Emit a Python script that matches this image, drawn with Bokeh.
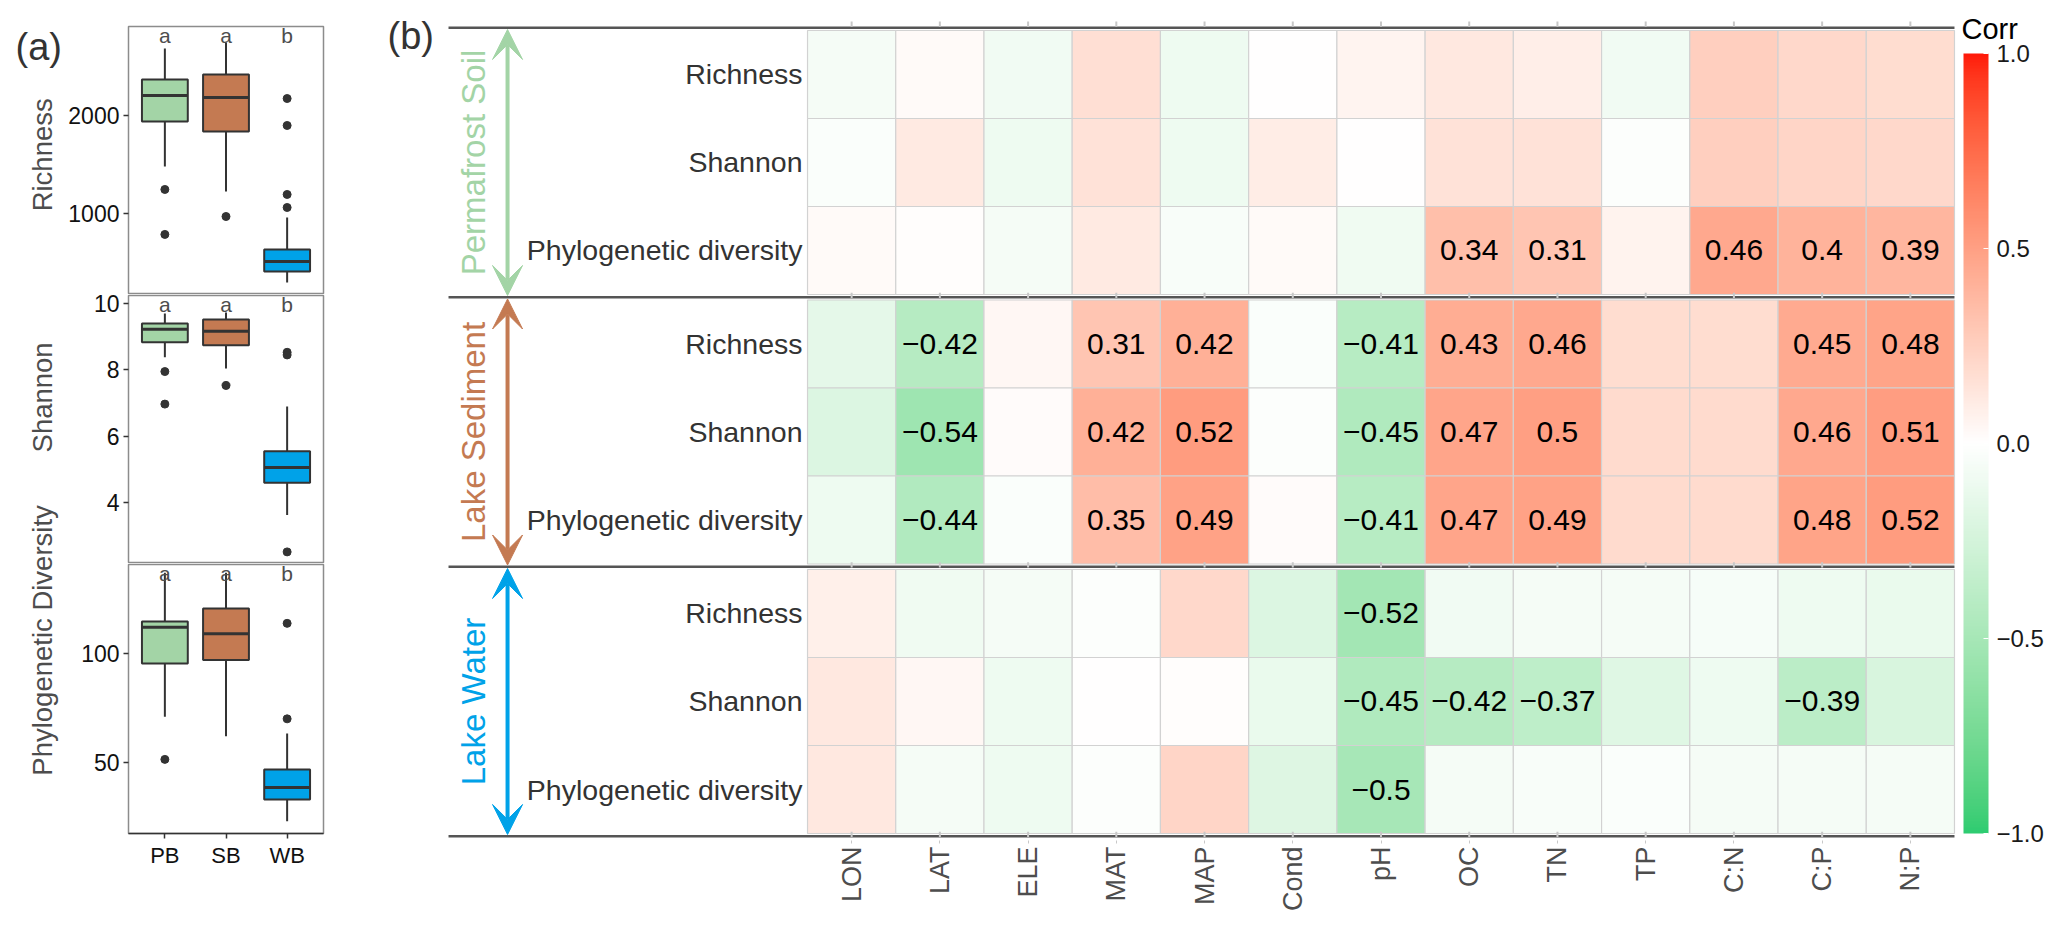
import numpy as np
from bokeh.plotting import figure
from bokeh.models import (Range1d, FactorRange, FixedTicker, ColumnDataSource, LinearColorMapper,
                          ColorBar, Arrow, VeeHead)
from bokeh.layouts import row, column
from bokeh.embed import file_html
from bokeh.resources import INLINE
from bokeh.core.properties import value

FONT = "Liberation Sans"

# ---------------- panel (a) data ----------------
groups = ["PB", "SB", "WB"]
group_colors = ["#A3D4A6", "#C47A52", "#00A2E8"]
letters = ["a", "a", "b"]
box_titles = ["Richness", "Shannon", "Phylogenetic Diversity"]

rich_low = [1480, 1224, 296]
rich_q1 = [1939, 1837, 408]
rich_med = [2204, 2184, 510]
rich_q3 = [2367, 2418, 633]
rich_high = [2684, 2745, 959]
rich_out_grp = ["PB", "PB", "SB", "WB", "WB", "WB", "WB"]
rich_out_val = [1245, 786, 969, 2173, 1898, 1194, 1061]

shan_low = [8.38, 8.04, 3.63]
shan_q1 = [8.83, 8.74, 4.60]
shan_med = [9.22, 9.16, 5.06]
shan_q3 = [9.40, 9.52, 5.55]
shan_high = [9.70, 9.73, 6.90]
shan_out_grp = ["PB", "PB", "SB", "WB", "WB", "WB"]
shan_out_val = [7.95, 6.97, 7.53, 8.53, 8.45, 2.52]

pd_low = [71, 62, 23]
pd_q1 = [95.4, 97, 33]
pd_med = [112, 109, 38.5]
pd_q3 = [114.7, 120.6, 46.8]
pd_high = [137, 137, 63.3]
pd_out_grp = ["PB", "WB", "WB"]
pd_out_val = [51.4, 113.8, 70]

# ---------------- panel (b) data ----------------
env_vars = ["LON", "LAT", "ELE", "MAT", "MAP", "Cond", "pH", "OC", "TN", "TP", "C:N", "C:P", "N:P"]
metrics = ["Richness", "Shannon", "Phylogenetic diversity"]
habitats = ["Permafrost Soil", "Lake Sediment", "Lake Water"]
habitat_colors = ["#A3D4A6", "#C47A52", "#00A2E8"]

soil_richness = [-0.06, 0.03, -0.08, 0.17, -0.10, 0.00, 0.06, 0.12, 0.09, -0.08, 0.25, 0.21, 0.18]
soil_shannon = [-0.03, 0.11, -0.10, 0.15, -0.10, 0.10, 0.00, 0.15, 0.15, -0.02, 0.25, 0.22, 0.21]
soil_pd = [0.03, 0.01, -0.06, 0.11, -0.04, 0.03, -0.09, 0.34, 0.31, 0.07, 0.46, 0.40, 0.39]
sed_richness = [-0.15, -0.42, 0.04, 0.31, 0.42, -0.03, -0.41, 0.43, 0.46, 0.18, 0.18, 0.45, 0.48]
sed_shannon = [-0.20, -0.54, 0.02, 0.42, 0.52, -0.02, -0.45, 0.47, 0.50, 0.19, 0.19, 0.46, 0.51]
sed_pd = [-0.10, -0.44, -0.03, 0.35, 0.49, 0.02, -0.41, 0.47, 0.49, 0.19, 0.19, 0.48, 0.52]
water_richness = [0.08, -0.09, -0.06, -0.02, 0.21, -0.20, -0.52, -0.08, -0.06, -0.06, -0.05, -0.10, -0.12]
water_shannon = [0.12, 0.04, -0.10, 0.00, 0.01, -0.12, -0.45, -0.42, -0.37, -0.18, -0.10, -0.39, -0.22]
water_pd = [0.12, -0.06, -0.10, -0.02, 0.22, -0.19, -0.50, -0.06, -0.04, -0.03, -0.06, -0.06, -0.06]

corr_rows = [soil_richness, soil_shannon, soil_pd,
             sed_richness, sed_shannon, sed_pd,
             water_richness, water_shannon, water_pd]
show_threshold = 0.3

corr_low_color = "#2ECC71"
corr_high_color = "#FF1A0A"
colorbar_ticks = [-1.0, -0.5, 0.0, 0.5, 1.0]
colorbar_title = "Corr"


# ---------------- colour helpers (Lab interpolation like ggplot) ----------------
def _hex_to_rgb(h):
    h = h.lstrip("#")
    return np.array([int(h[i:i + 2], 16) for i in (0, 2, 4)], dtype=float) / 255.0


_M = np.array([[0.4124564, 0.3575761, 0.1804375],
               [0.2126729, 0.7151522, 0.0721750],
               [0.0193339, 0.1191920, 0.9503041]])
_MI = np.linalg.inv(_M)
_WHITE = np.array([0.95047, 1.0, 1.08883])


def _to_lab(h):
    c = _hex_to_rgb(h)
    lin = np.where(c <= 0.04045, c / 12.92, ((c + 0.055) / 1.055) ** 2.4)
    xyz = _M @ lin / _WHITE
    d = 6 / 29
    f = np.where(xyz > d ** 3, np.cbrt(xyz), xyz / (3 * d * d) + 4 / 29)
    return np.array([116 * f[1] - 16, 500 * (f[0] - f[1]), 200 * (f[1] - f[2])])


def _from_lab(lab):
    L, a, b = lab
    fy = (L + 16) / 116
    fx = fy + a / 500
    fz = fy - b / 200
    d = 6 / 29
    f = np.array([fx, fy, fz])
    xyz = np.where(f > d, f ** 3, 3 * d * d * (f - 4 / 29)) * _WHITE
    lin = np.clip(_MI @ xyz, 0, 1)
    c = np.where(lin <= 0.0031308, 12.92 * lin, 1.055 * lin ** (1 / 2.4) - 0.055)
    c = np.clip(np.round(c * 255), 0, 255).astype(int)
    return "#%02x%02x%02x" % tuple(c)


_lab_low, _lab_mid, _lab_high = _to_lab(corr_low_color), _to_lab("#FFFFFF"), _to_lab(corr_high_color)
palette = []
for v in np.linspace(-1, 1, 256):
    if v < 0:
        palette.append(_from_lab(_lab_mid + (-v) * (_lab_low - _lab_mid)))
    else:
        palette.append(_from_lab(_lab_mid + v * (_lab_high - _lab_mid)))
mapper = LinearColorMapper(palette=palette, low=-1, high=1)

# ---------------- layout constants (pixels) ----------------
STRIP_W = 65
A_W = 278
COL_H = 917
A_FRAME_TOPS = [26, 295, 564]
A_FRAME_BOTTOMS = [294, 563, 833]


# ---------------- panel (a) ----------------
def box_fig(low, q1, med, q3, high, out_grp, out_val, yr, ticks, height,
            top, bottom, show_x, overlap):
    p = figure(width=A_W, height=height,
               x_range=FactorRange(factors=groups, range_padding=0.0633),
               y_range=Range1d(*yr), output_backend="svg", toolbar_location=None,
               min_border_left=62, min_border_right=20,
               min_border_top=top, min_border_bottom=bottom,
               margin=(-overlap, 0, 0, 0))
    p.border_fill_color = None
    p.xgrid.visible = False
    p.ygrid.visible = False
    p.outline_line_color = "#8c8c8c"
    p.outline_line_width = 1.5
    p.background_fill_color = "white"
    src = ColumnDataSource(dict(g=groups, low=low, q1=q1, med=med, q3=q3, high=high,
                                color=group_colors, letter=letters))
    p.segment(x0="g", y0="q3", x1="g", y1="high", source=src, line_color="#333333", line_width=2)
    p.segment(x0="g", y0="low", x1="g", y1="q1", source=src, line_color="#333333", line_width=2)
    p.vbar(x="g", width=0.75, bottom="q1", top="q3", source=src, fill_color="color",
           line_color="#333333", line_width=2)
    p.vbar(x="g", width=0.75, bottom="med", top="med", source=src, fill_color=None,
           line_color="#333333", line_width=3)
    p.scatter(x=out_grp, y=out_val, size=8, color="#333333")
    px_per_unit = (height - top - bottom) / (yr[1] - yr[0])
    src.data["ly"] = [yr[1] - 9 / px_per_unit] * 3
    p.text(x="g", y="ly", text="letter", source=src, text_align="center", text_baseline="middle",
           text_font=value(FONT), text_font_size="21px", text_color="#4d4d4d")

    ax = p.yaxis[0]
    ax.ticker = FixedTicker(ticks=ticks)
    ax.major_label_text_font = FONT
    ax.major_label_text_font_size = "23px"
    ax.major_label_text_color = "#111111"
    ax.major_label_standoff = 4
    ax.major_tick_in = 0
    ax.major_tick_out = 5
    ax.major_tick_line_color = "#333333"
    ax.major_tick_line_width = 1.5
    ax.minor_tick_line_color = None
    ax.axis_line_color = None

    if show_x:
        xa = p.xaxis[0]
        xa.major_label_text_font = FONT
        xa.major_label_text_font_size = "22px"
        xa.major_label_text_color = "#111111"
        xa.major_tick_in = 0
        xa.major_tick_out = 5
        xa.major_tick_line_color = "#333333"
        xa.major_tick_line_width = 1.5
        xa.axis_line_color = "#333333"
        xa.axis_line_width = 1.5
        xa.major_label_standoff = 4
    else:
        p.xaxis.visible = False
    return p


a1 = box_fig(rich_low, rich_q1, rich_med, rich_q3, rich_high, rich_out_grp, rich_out_val,
             (173, 2908), [1000, 2000], 294, 26, 0, False, 0)
a2 = box_fig(shan_low, shan_q1, shan_med, shan_q3, shan_high, shan_out_grp, shan_out_val,
             (2.17, 10.24), [4, 6, 8, 10], 277, 9, 0, False, 8)
a3 = box_fig(pd_low, pd_q1, pd_med, pd_q3, pd_high, pd_out_grp, pd_out_val,
             (17.4, 140.8), [50, 100], 362, 9, 84, True, 8)

# strip holding "(a)" and the y titles of panel (a)
strip = figure(width=STRIP_W, height=COL_H, x_range=Range1d(0, STRIP_W), y_range=Range1d(COL_H, 0),
               output_backend="svg", toolbar_location=None, min_border=0,
               min_border_left=0, min_border_right=0, min_border_top=0, min_border_bottom=0)
strip.axis.visible = False
strip.grid.visible = False
strip.outline_line_color = None
strip.text(x=[15], y=[40], text=["(a)"], text_align="left", text_baseline="middle",
           text_font=value(FONT), text_font_size="38px", text_color="#333333")
title_y = [(t + b) / 2 for t, b in zip(A_FRAME_TOPS, A_FRAME_BOTTOMS)]
strip.text(x=[42] * 3, y=title_y, text=box_titles, angle=np.pi / 2, text_align="center",
           text_baseline="middle", text_font=value(FONT), text_font_size="27.5px",
           text_color="#4d4d4d")

# ---------------- panel (b) ----------------
gap = 0.0625          # gap between habitat blocks, in row units
x_left = -4.340
x_right = 14.781
sep_x_start = -3.569
hm = figure(width=1724, height=920, x_range=Range1d(x_left, x_right),
            y_range=Range1d(9.2045, -0.227), output_backend="svg", toolbar_location=None,
            min_border_left=37, min_border_right=0, min_border_top=10, min_border_bottom=80)
hm.outline_line_color = None
hm.xgrid.visible = False
hm.ygrid.visible = False
hm.yaxis.visible = False

col_x = [i + 1 for i in range(len(env_vars))]
cx, cy, cv, ct = [], [], [], []
row_y = []
for s in range(3):
    for r in range(3):
        yc = s * (3 + gap) + r + 0.5
        row_y.append(yc)
        vals = corr_rows[s * 3 + r]
        for j, v in enumerate(vals):
            cx.append(col_x[j])
            cy.append(yc)
            cv.append(v)
            ct.append(("%g" % v).replace("-", "\u2212") if abs(v) >= show_threshold else "")

cell_src = ColumnDataSource(dict(x=cx, y=cy, v=cv, t=ct))
hm.rect(x="x", y="y", width=1, height=1, source=cell_src,
        fill_color={"field": "v", "transform": mapper}, line_color="#d2d2d2", line_width=1.2)
hm.text(x="x", y="y", text="t", source=cell_src, text_align="center", text_baseline="middle",
        text_font=value(FONT), text_font_size="30px", text_color="#000000")

# row labels
hm.text(x=[0.443] * 9, y=row_y, text=metrics * 3, text_align="right", text_baseline="middle",
        text_font=value(FONT), text_font_size="28.5px", text_color="#333333")

# separator lines
sep_y = [-gap / 2] + [s * (3 + gap) + 3 + gap / 2 for s in range(3)]
hm.segment(x0=[sep_x_start] * 4, y0=sep_y, x1=[13.5] * 4, y1=sep_y, line_color="#555555", line_width=2.5)

# small tick marks at column centres
tx0, ty0, ty1 = [], [], []
for j in col_x:
    tx0.append(j); ty0.append(-gap / 2 - 0.07); ty1.append(-gap / 2 - 0.01)
    for s in range(3):
        yb = s * (3 + gap) + 3
        tx0.append(j); ty0.append(yb - 0.02); ty1.append(yb + 0.04)
hm.segment(x0=tx0, y0=ty0, x1=tx0, y1=ty1, line_color="#c8c8c8", line_width=2)

# habitat labels and arrows
for s in range(3):
    ytop = s * (3 + gap)
    ymid = ytop + 1.5
    c = habitat_colors[s]
    hm.text(x=[-3.286], y=[ymid], text=[habitats[s]], angle=np.pi / 2, text_align="center",
            text_baseline="middle", text_font=value(FONT), text_font_size="33px", text_color=c)
    hm.add_layout(Arrow(start=VeeHead(size=30, fill_color=c, line_color=c),
                        end=VeeHead(size=30, fill_color=c, line_color=c),
                        x_start=-2.90, y_start=ytop - gap / 2 + 0.02,
                        x_end=-2.90, y_end=ytop + 3 + gap / 2 - 0.02,
                        line_color=c, line_width=4))

hm.text(x=[-4.26], y=[0.068], text=["(b)"], text_align="left", text_baseline="middle",
        text_font=value(FONT), text_font_size="38px", text_color="#333333")

# colour bar title
hm.text(x=[13.58], y=[-0.02], text=[colorbar_title], text_align="left", text_baseline="middle",
        text_font=value(FONT), text_font_size="29px", text_color="#000000")

xa = hm.xaxis[0]
xa.ticker = FixedTicker(ticks=col_x)
xa.major_label_overrides = {k: n for k, n in zip(col_x, env_vars)}
xa.major_label_orientation = np.pi / 2
xa.axis_line_color = None
xa.major_tick_line_color = "#c8c8c8"
xa.major_tick_in = 0
xa.major_tick_out = 3
xa.minor_tick_line_color = None
xa.major_label_standoff = 3
xa.major_label_text_font = FONT
xa.major_label_text_font_size = "27px"
xa.major_label_text_color = "#4d4d4d"

cb = ColorBar(color_mapper=mapper, ticker=FixedTicker(ticks=colorbar_ticks),
              major_label_overrides={1.0: "1.0", 0.5: "0.5", 0.0: "0.0", -0.5: "\u22120.5", -1.0: "\u22121.0"},
              width=25, height=780, location=(1583, 7), margin=0, padding=0,
              orientation="vertical",
              major_label_text_font=FONT, major_label_text_font_size="24px",
              major_label_text_color="#1a1a1a", label_standoff=8,
              major_tick_line_color="white", major_tick_in=5, major_tick_out=0,
              minor_tick_line_color=None, bar_line_color=None, border_line_color=None,
              background_fill_color=None)
hm.add_layout(cb, "center")

layout = row(strip, column(a1, a2, a3), hm)
open("out.html", "w").write(file_html(layout, INLINE))
